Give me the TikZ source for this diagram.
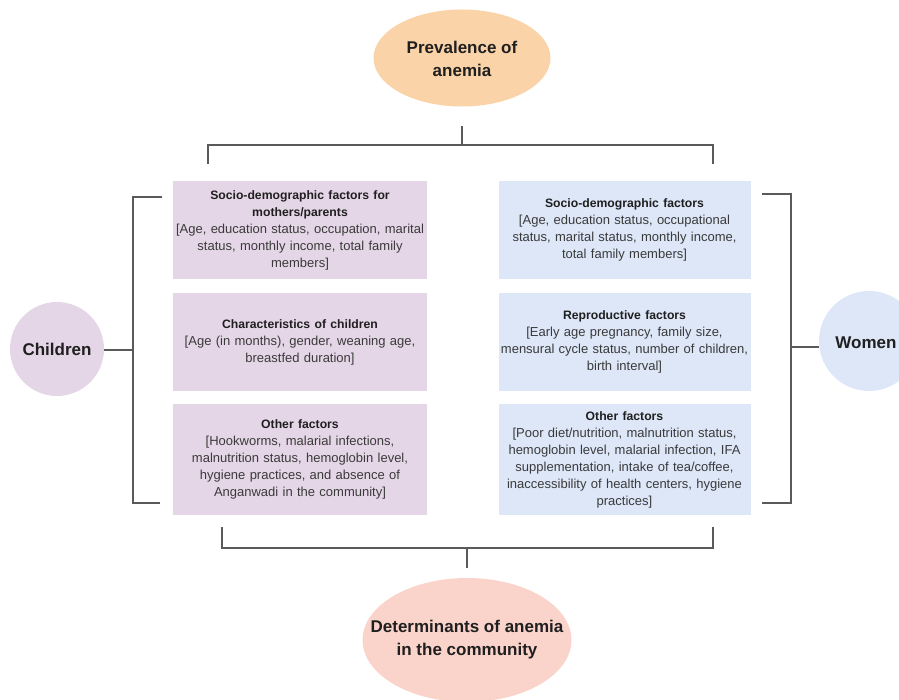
\documentclass[tikz,border=0pt]{standalone}
\usepackage{fontspec}
\setmainfont{Liberation Sans}
\usetikzlibrary{shapes.geometric}
\definecolor{lav}{HTML}{E5D6E7}
\definecolor{lblue}{HTML}{DDE7F8}
\definecolor{peach}{HTML}{FAD3A8}
\definecolor{pinkp}{HTML}{FAD4CB}
\definecolor{linec}{HTML}{5A5A5A}
\definecolor{bodyc}{HTML}{3A3A3A}
\tikzset{
  fbox/.style={rectangle, minimum width=254pt, minimum height=98pt, text width=254pt, align=center, inner sep=0pt, text=bodyc, font=\fontsize{13}{17}\selectfont},
  lbox/.style={fbox, fill=lav},
  rbox/.style={fbox, fill=lblue, minimum width=252pt, text width=252pt},
  conn/.style={draw=linec, line width=1.2pt},
  big/.style={font=\fontsize{17}{23}\selectfont\bfseries, align=center, text=black!88},
}
\newcommand{\ttl}[1]{{\fontsize{12.2}{17}\selectfont\bfseries\color{black!88}#1}}
\begin{document}
\begin{tikzpicture}[x=1pt,y=-1pt]
\useasboundingbox (0,0) rectangle (899,700);
% top / bottom ellipses
\node[ellipse, fill=peach, minimum width=177pt, minimum height=97pt, inner sep=0pt] (prev) at (462,58) {};
\node[big] (prevt) at (462,59) {Prevalence of\\anemia};
\node[ellipse, fill=pinkp, minimum width=209pt, minimum height=124pt, inner sep=0pt] (det) at (467,640) {};
\node[big] (dett) at (det.center) {Determinants of anemia\\in the community};
% circles
\node[circle, fill=lav, minimum size=94pt, big, inner sep=0pt] (child) at (57,349) {Children};
\node[circle, fill=lblue, minimum size=100pt, inner sep=0pt] (women) at (869,341) {};
\node[big] (woment) at (866,343) {Women};
% left boxes
\node[lbox, minimum height=98pt] (l1) at (300,230) {\ttl{Socio-demographic factors for\\mothers/parents}\\{[}Age, education status, occupation, marital\\status, monthly income, total family\\members]};
\node[lbox, minimum height=98pt] (l2) at (300,342) {\ttl{Characteristics of children}\\{[}Age (in months), gender, weaning age,\\breastfed duration]};
\node[lbox, minimum height=111pt] (l3) at (300,459.5) {\ttl{Other factors}\\{[}Hookworms, malarial infections,\\malnutrition status, hemoglobin level,\\hygiene practices, and absence of\\Anganwadi in the community]};
% right boxes
\node[rbox, minimum height=98pt] (r1) at (624.5,230) {\ttl{Socio-demographic factors}\\{[}Age, education status, occupational\\status, marital status, monthly income,\\total family members]};
\node[rbox, minimum height=98pt] (r2) at (624.5,342) {\ttl{Reproductive factors}\\{[}Early age pregnancy, family size,\\mensural cycle status, number of children,\\birth interval]};
\node[rbox, minimum height=111pt] (r3) at (624.5,459.5) {\ttl{Other factors}\\{[}Poor diet/nutrition, malnutrition status,\\hemoglobin level, malarial infection, IFA\\supplementation, intake of tea/coffee,\\inaccessibility of health centers, hygiene\\practices]};
% top bracket
\coordinate (ta) at (462,126);
\coordinate (tm) at (462,145);
\coordinate (tl) at (208,145);
\coordinate (tr) at (713,145);
\coordinate (tld) at (208,164);
\coordinate (trd) at (713,164);
\draw[conn] (ta) -- (tm);
\draw[conn] (tld) -- (tl) -- (tr) -- (trd);
% left bracket
\coordinate (lt) at (162,197);
\coordinate (lb) at (160,503);
\coordinate (lv) at (133,350);
\draw[conn] (lt) -- (lt -| lv) -- (lb -| lv) -- (lb);
\draw[conn] (lv -| child.east) -- (lv);
% right bracket
\coordinate (rt) at (762,194);
\coordinate (rb) at (762,503);
\coordinate (rv) at (791,347);
\draw[conn] (rt) -- (rt -| rv) -- (rb -| rv) -- (rb);
\draw[conn] (rv) -- (819,347);
% bottom bracket
\coordinate (bl) at (222,527);
\coordinate (br) at (713,527);
\coordinate (bm) at (467,548);
\coordinate (bd) at (467,568);
\draw[conn] (bl) -- (bl |- bm) -- (br |- bm) -- (br);
\draw[conn] (bm) -- (bd);
\end{tikzpicture}
\end{document}
